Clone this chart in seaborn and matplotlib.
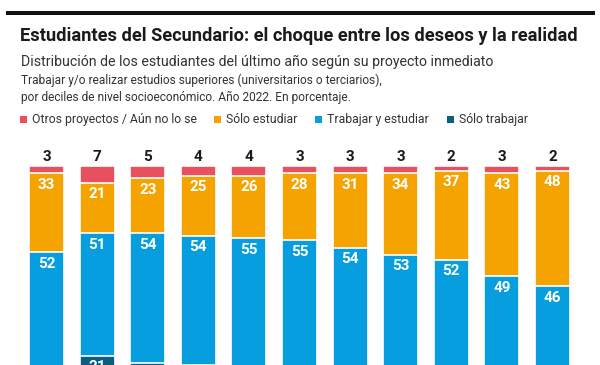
import numpy as np
import pandas as pd
import matplotlib.pyplot as plt
from matplotlib.patches import Rectangle
import seaborn as sns

# data (percent per socioeconomic decile)
deciles = ["1", "2", "3", "4", "5", "6", "7", "8", "9", "10", "Total"]
otros = [3, 7, 5, 4, 4, 3, 3, 3, 2, 3, 2]
solo_estudiar = [33, 21, 23, 25, 26, 28, 31, 34, 37, 43, 48]
trabajar_estudiar = [52, 51, 54, 54, 55, 55, 54, 53, 52, 49, 46]
solo_trabajar = [12, 21, 18, 17, 15, 14, 12, 10, 9, 5, 4]

series = ["Otros proyectos / Aún no lo se", "Sólo estudiar", "Trabajar y estudiar", "Sólo trabajar"]
colors = ["#E9505E", "#F4A300", "#079EE0", "#0B5E80"]

df = pd.DataFrame({
    "decil": deciles,
    series[0]: otros,
    series[1]: solo_estudiar,
    series[2]: trabajar_estudiar,
    series[3]: solo_trabajar,
})
cum = df[series].cumsum(axis=1)

sns.set_theme(style="white")
plt.rcParams["font.family"] = ["Roboto", "DejaVu Sans"]

W, H = 600, 365
fig = plt.figure(figsize=(W / 100, H / 100), dpi=100)

def fy(py):
    return 1 - py / H

# axes: top of bars at y=166px, 100% = 240px, bottom runs off the canvas
ax = fig.add_axes([0, fy(166) - 240 / H, 1, 240 / H])

# stacked bars drawn back to front from the cumulative sums
for name, col in zip(reversed(series), reversed(colors)):
    sns.barplot(data=cum.assign(decil=df["decil"]), x="decil", y=name, order=deciles,
                color=col, width=0.69, edgecolor="white", linewidth=1.2,
                saturation=1, ax=ax)

ax.set_ylim(100, 0)
ax.set_xlim(-0.919, 10.939)
ax.axis("off")

lab_font = dict(fontweight="bold", fontsize=11)
for i in range(len(deciles)):
    ax.annotate(str(otros[i]), (i, 0), xytext=(0, 6.2), textcoords="offset points",
                ha="center", va="center", color="#1a1a1a", **lab_font)
    start = 0
    for k, name in enumerate(series):
        v = df[name][i]
        if k > 0:
            ax.annotate(str(v), (i, start), xytext=(0, -8.3), textcoords="offset points",
                        ha="center", va="center", color="white", **lab_font)
        start += v

# header
fig.add_artist(Rectangle((6 / W, fy(15)), 589 / W, 4 / H, transform=fig.transFigure,
                         color="#111111", lw=0))
fig.text(20 / W, fy(36), "Estudiantes del Secundario: el choque entre los deseos y la realidad",
         fontsize=13.15, fontweight="bold", color="#1a1a1a", va="center")
fig.text(21 / W, fy(62), "Distribución de los estudiantes del último año según su proyecto inmediato",
         fontsize=10.2, color="#333333", va="center")
fig.text(21 / W, fy(80), "Trabajar y/o realizar estudios superiores (universitarios o terciarios),",
         fontsize=8.6, color="#333333", va="center")
fig.text(21 / W, fy(97), "por deciles de nivel socioeconómico. Año 2022. En porcentaje.",
         fontsize=8.6, color="#333333", va="center")

# legend
leg_x = [20, 214, 315, 447]
for x, name, col in zip(leg_x, series, colors):
    fig.add_artist(Rectangle((x / W, fy(123)), 7 / W, 7 / H, transform=fig.transFigure,
                             color=col, lw=0))
    fig.text((x + 12) / W, fy(119.5), name, fontsize=8.8, color="#333333", va="center")

fig.savefig("out.png", dpi=100)
